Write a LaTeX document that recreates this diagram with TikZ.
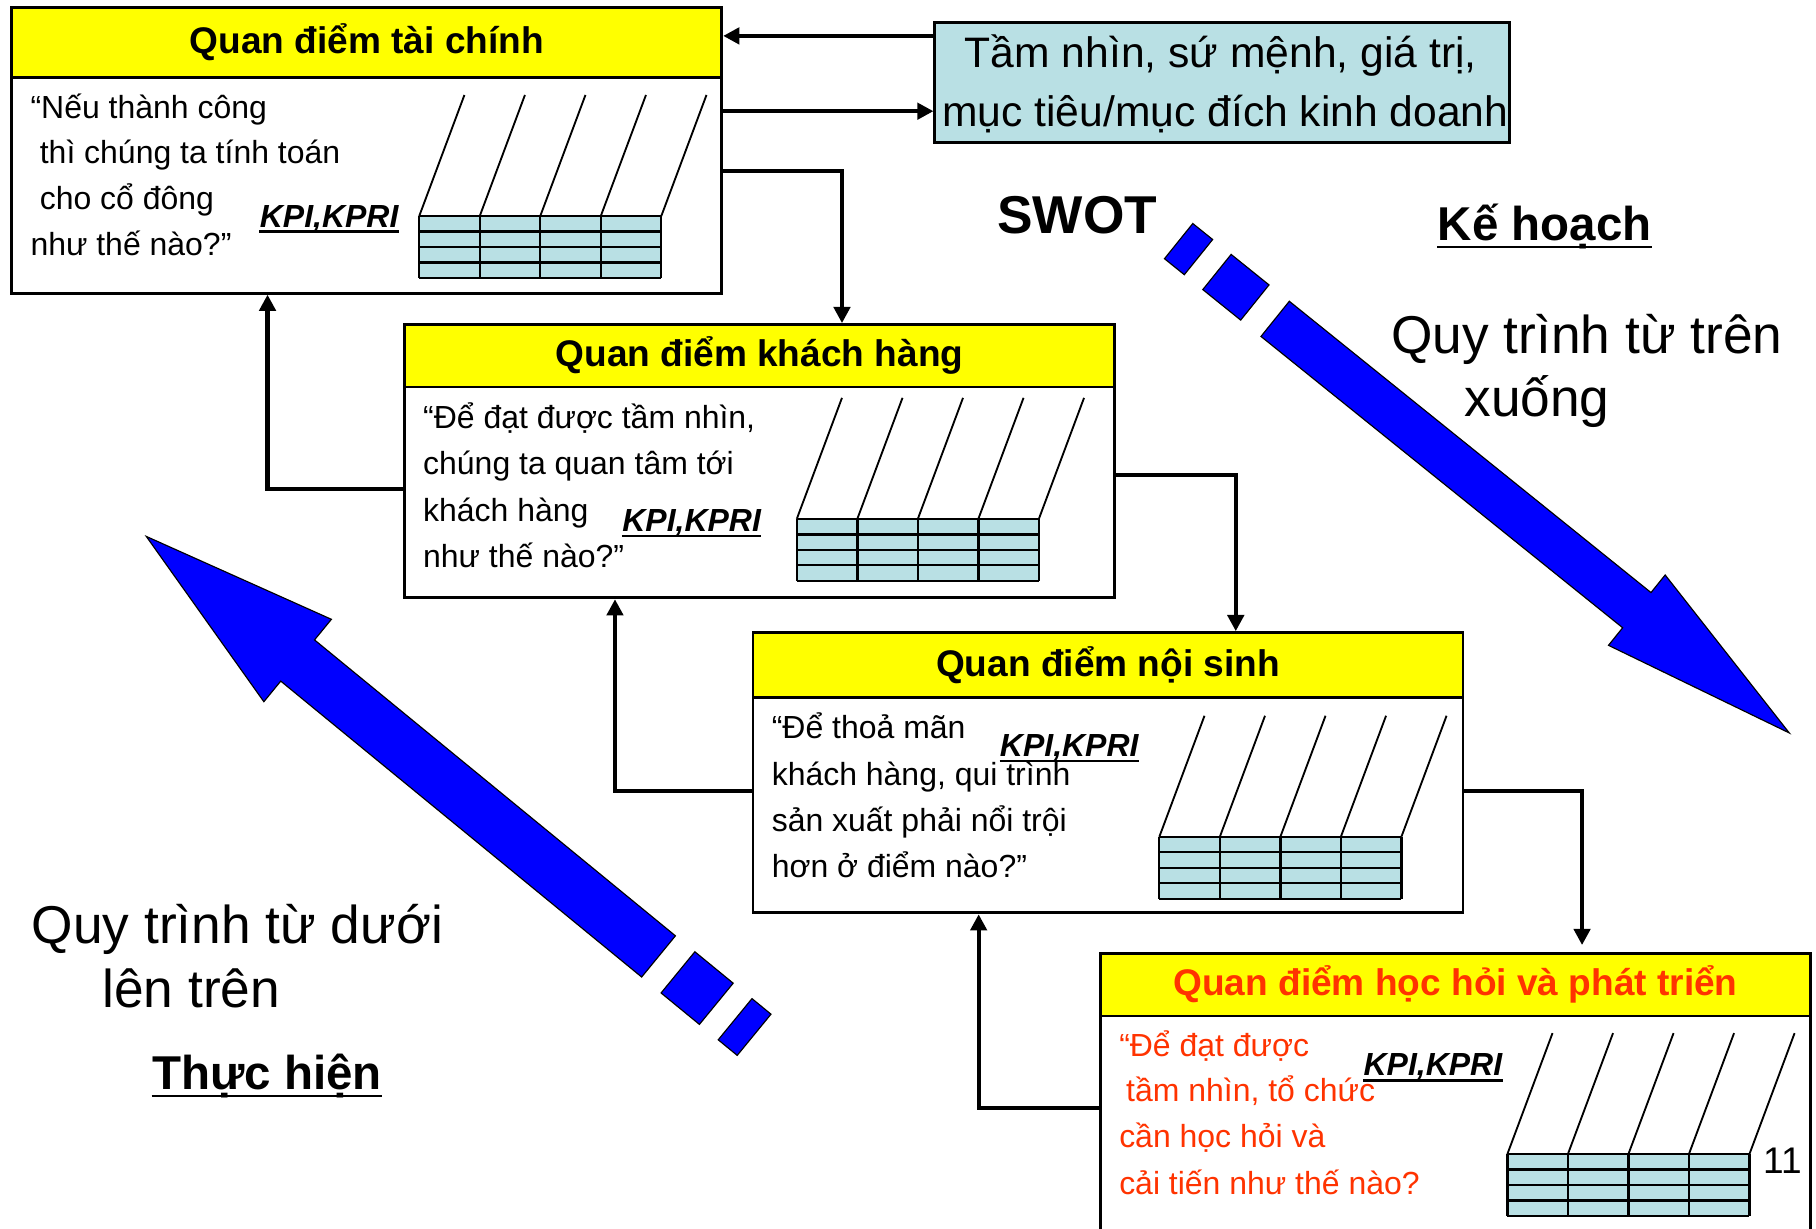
\documentclass[tikz,border=0pt]{standalone}
\usepackage{fontspec}
\setmainfont{Liberation Sans}
\usetikzlibrary{arrows.meta}

\definecolor{hdryellow}{RGB}{255,255,0}
\definecolor{paleteal}{RGB}{185,224,228}
\definecolor{learnred}{RGB}{255,51,0}
\definecolor{bigblue}{RGB}{0,0,255}

% measure table: 4x4 grid with slanted column headers (grid top-left at #1,#2)
\newcommand\kpitable[2]{%
  \begin{scope}[shift={(#1,#2)}]
    \fill[paleteal] (0,0) rectangle (209,53.5);
    \foreach \r in {0,13.375,26.75,40.125,53.5}
      \draw[line width=1pt] (0,\r) -- (209,\r);
    \foreach \c in {0,52.25,104.5,156.75,209} {
      \draw[line width=1pt] (\c,0) -- (\c,53.5);
      \draw[line width=0.8pt] (\c,0) -- ++(39,-104.5);
    }
  \end{scope}}

% underlined KPI label
\newcommand\kpilabel[3]{%
  \node[kpi] (#1) at (#2,#3) {KPI,KPRI};
  \draw[line width=1pt] ([yshift=-2pt]#1.base west) -- ([yshift=-2pt]#1.base east);}

\begin{document}
\begin{tikzpicture}[x=0.5pt,y=-0.5pt,
  box/.style={draw, line width=1.2pt, fill=white, inner sep=0pt, anchor=north west, minimum width=306.5pt},
  hdr/.style={draw, line width=1.2pt, fill=hdryellow, inner sep=0pt, anchor=north west,
              minimum width=306.5pt, font=\fontsize{16}{19}\selectfont\bfseries},
  body/.style={anchor=base west, inner sep=0pt, font=\fontsize{13.8}{17}\selectfont},
  kpi/.style={anchor=base west, inner sep=0pt, font=\fontsize{13.8}{17}\selectfont\bfseries\itshape},
  big/.style={inner sep=0pt, font=\fontsize{23}{28}\selectfont},
  bigbold/.style={inner sep=0pt, font=\fontsize{20.5}{24}\selectfont\bfseries},
  conn/.style={line width=1.8pt, -{Triangle[length=7pt,width=7pt]}},
  bigarrow/.style={fill=bigblue, draw=black, line width=0.5pt, line join=miter}]

\clip (0,0) rectangle (1568,1061);
\fill[white] (0,0) rectangle (1568,1061);

% ---- the four perspectives ----
\node[box, minimum height=123.5pt] (b1) at (9,5) {};
\node[hdr, minimum height=30.5pt] (b1h) at (9,5) {Quan điểm tài chính};
\node[box, minimum height=118pt] (b2) at (348,279) {};
\node[hdr, minimum height=27pt] (b2h) at (348,279) {Quan điểm khách hàng};
\node[box, minimum height=121pt] (b3) at (649,545) {};
\node[hdr, minimum height=28pt] (b3h) at (649,545) {Quan điểm nội sinh};
\node[box, minimum height=130pt] (b4) at (949,822) {};
\node[hdr, minimum height=27pt, text=learnred] (b4h) at (949,822) {Quan điểm học hỏi và phát triển};

% ---- measure tables ----
\kpitable{362}{186.5}
\kpitable{688}{448}
\kpitable{1001}{722.5}
\kpitable{1301.5}{996.5}

% ---- box texts ----
\node[body] (t11) at (26,102) {“Nếu thành công};
\node[body] (t12) at (34,141) {thì chúng ta tính toán};
\node[body] (t13) at (34,181) {cho cổ đông};
\node[body] (t14) at (26,221) {như thế nào?”};
\kpilabel{k1}{224}{196}

\node[body] (t21) at (365,370) {“Để đạt được tầm nhìn,};
\node[body] (t22) at (365,410) {chúng ta quan tâm tới};
\node[body] (t23) at (365,450) {khách hàng};
\node[body] (t24) at (365,490) {như thế nào?”};
\kpilabel{k2}{537}{459}

\node[body] (t31) at (666,638) {“Để thoả mãn};
\node[body] (t32) at (666,678) {khách hàng, qui trình};
\node[body] (t33) at (666,718) {sản xuất phải nổi trội};
\node[body] (t34) at (666,758) {hơn ở điểm nào?”};
\kpilabel{k3}{863}{653}

\node[body, text=learnred] (t41) at (966,912) {“Để đạt được};
\node[body, text=learnred] (t42) at (972,951) {tầm nhìn, tổ chức};
\node[body, text=learnred] (t43) at (966,991) {cần học hỏi và};
\node[body, text=learnred] (t44) at (966,1031) {cải tiến như thế nào?};
\kpilabel{k4}{1177}{929}

\node[anchor=base, inner sep=0pt, font=\fontsize{16}{19}\selectfont] (pg) at (1539,1013) {11};

% ---- vision box ----
\node[draw, fill=paleteal, line width=1.2pt, anchor=north west, inner sep=0pt,
      minimum width=248pt, minimum height=52pt] (vis) at (806,18) {};
\node[anchor=base, inner sep=0pt, font=\fontsize{18.4}{22}\selectfont] (v1) at (1054,58) {Tầm nhìn, sứ mệnh, giá trị,};
\node[anchor=base, inner sep=0pt, font=\fontsize{18.4}{22}\selectfont] (v2) at (1058,109) {mục tiêu/mục đích kinh doanh};

% ---- connector bend points ----
\coordinate (y31) at (700,31);
\coordinate (y96) at (700,96);
\coordinate (k1) at (727,148);
\coordinate (k2) at (231,422);
\coordinate (k3) at (1067,410);
\coordinate (k4) at (531,683);
\coordinate (k5) at (1366,683);
\coordinate (k6) at (845,957);

\draw[conn] (vis.west |- y31) -- (b1.east |- y31);
\draw[conn] (b1.east |- y96) -- (vis.west |- y96);
\draw[conn] (b1.east |- k1) -| (k1 |- b2.north);
\draw[conn] (b2.west |- k2) -| (k2 |- b1.south);
\draw[conn] (b2.east |- k3) -| (k3 |- b3.north);
\draw[conn] (b3.west |- k4) -| (k4 |- b2.south);
\draw[conn, shorten >=3pt] (b3.east |- k5) -| (k5 |- b4.north);
\draw[conn] (b4.west |- k6) -| (k6 |- b3.south);

% ---- side labels ----
\node[anchor=base, inner sep=0pt, font=\fontsize{23}{27}\selectfont\bfseries] (swot) at (930,202) {SWOT};
\node[bigbold, anchor=base west] (plan) at (1241,208) {Kế hoạch};
\draw[line width=1.15pt] ([yshift=-2.6pt]plan.base west) -- ([yshift=-2.6pt]plan.base east);
\node[big, anchor=base west] (td1) at (1201,305) {Quy trình từ trên};
\node[big, anchor=base west] (td2) at (1264,360) {xuống};

\node[big, anchor=base west] (bu1) at (27,815) {Quy trình từ dưới};
\node[big, anchor=base west] (bu2) at (88,870) {lên trên};
\node[bigbold, anchor=base west] (act) at (131,941) {Thực hiện};
\draw[line width=1.15pt] ([yshift=-2.6pt]act.base west) -- ([yshift=-2.6pt]act.base east);

% ---- top-down process arrow ----
\begin{scope}[shift={(1101,275.3)}, rotate=-38.85]
  \draw[bigarrow] (-107,-19.5) -- (-85,-19.5) -- (-85,19.5) -- (-107,19.5) -- cycle;
  \draw[bigarrow] (-64.5,-19.5) -- (-22.5,-19.5) -- (-22.5,19.5) -- (-64.5,19.5) -- cycle;
  \draw[bigarrow] (0,-19.5) -- (401,-19.5) -- (401,-39) -- (570,0) -- (401,39) -- (401,19.5) -- (0,19.5) -- cycle;
\end{scope}

% ---- bottom-up process arrow ----
\begin{scope}[shift={(568.6,825.8)}, rotate=140.65]
  \draw[bigarrow] (-106.7,-23) -- (-85.5,-23) -- (-85.5,23) -- (-106.7,23) -- cycle;
  \draw[bigarrow] (-64.5,-23) -- (-21.7,-23) -- (-21.7,23) -- (-64.5,23) -- cycle;
  \draw[bigarrow] (0,-23) -- (403,-23) -- (403,-46) -- (572,0) -- (403,46) -- (403,23) -- (0,23) -- cycle;
\end{scope}

\end{tikzpicture}
\end{document}
